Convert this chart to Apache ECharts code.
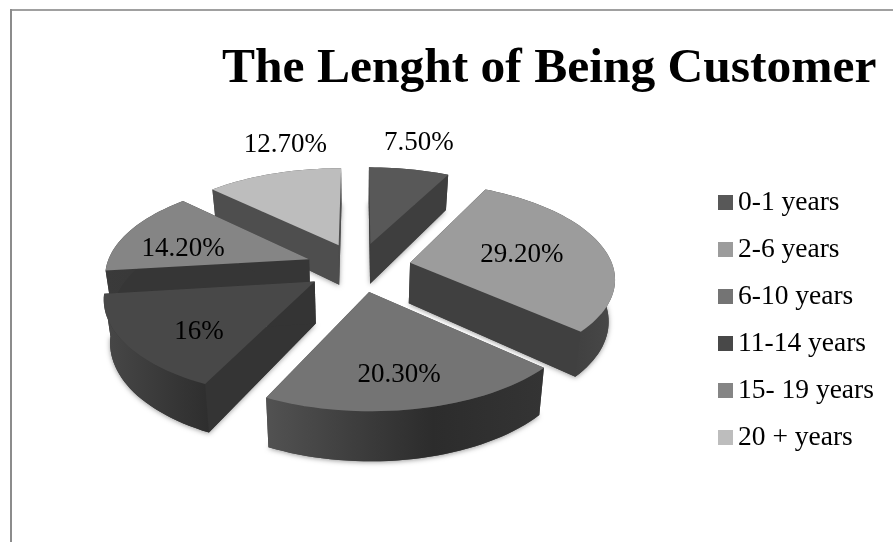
<!DOCTYPE html>
<html>
<head>
<meta charset="utf-8">
<style>html,body{margin:0;padding:0;background:#fff}#chart{width:893px;height:542px}</style>
<script src="https://cdn.jsdelivr.net/npm/echarts@6/dist/echarts.min.js"></script>
</head>
<body>
<div id="chart"></div>
<script>
// Share of customers by length of relationship
const categories = ['0-1 years', '2-6 years', '6-10 years', '11-14 years', '15- 19 years', '20 + years'];
const shares = [7.5, 29.2, 20.3, 16, 14.2, 12.7];
const valueLabels = ['7.50%', '29.20%', '20.30%', '16%', '14.20%', '12.70%'];

// Surface shades for each slice
const faceColors = ['#585858', '#9c9c9c', '#747474', '#484848', '#858585', '#bdbdbd'];
const cutColors = ['#3e3e3e', '#404040', '#4a4a4a', '#343434', '#363636', '#4e4e4e'];
const rimLeft = ['#3e3e3e', '#3c3c3c', '#525252', '#484848', '#3a3a3a', '#4e4e4e'];
const rimMiddle = ['#3e3e3e', '#3e3e3e', '#2c2c2c', '#383838', '#383838', '#4e4e4e'];
const rimRight = ['#3e3e3e', '#484848', '#343434', '#2e2e2e', '#363636', '#4e4e4e'];

// Where each value label sits, in pie radii from the hub and degrees off the slice's middle
const labelReach = [1.67, 0.83, 1.0, 0.95, 0.91, 1.66];
const labelTurn = [-0.8, 1.5, 1.3, -5.5, -6.3, 7.4];

// Tilted, perspective view of the pie
const view = { cx: 358.5, cy: 267, sx: 203, sy: 94, persp: 0.145, depth: 41, shrink: 0.975, explode: 0.26 };

function project(u, v) {
  const s = 1 / (1 + view.persp * v);
  return { x: view.cx + view.sx * u * s, y: view.cy - view.sy * v * s, s };
}
function topPoint(u, v) {
  const p = project(u, v);
  return [p.x, p.y];
}
function basePoint(u, v) {
  const p = project(u, v);
  return [view.cx + (p.x - view.cx) * view.shrink, p.y + view.depth * p.s];
}

// Angular span of every slice, clockwise from twelve o'clock
const total = shares.reduce((a, b) => a + b, 0);
let running = 0;
const spans = shares.map(v => {
  const from = running / total * 2 * Math.PI;
  running += v;
  return { from, to: running / total * 2 * Math.PI };
});

// Paint order: slices further back go first
const paintRank = spans
  .map((sp, i) => ({ i, v: Math.cos((sp.from + sp.to) / 2) }))
  .sort((a, b) => b.v - a.v)
  .reduce((rank, item, pos) => { rank[item.i] = pos; return rank; }, {});

function renderSlice(params, api) {
  const i = api.value(0);
  const sp = spans[i];
  const mid = (sp.from + sp.to) / 2;
  const hubU = view.explode * Math.sin(mid);
  const hubV = view.explode * Math.cos(mid);
  const edge = [];
  const steps = Math.max(2, Math.ceil((sp.to - sp.from) / (Math.PI / 90)));
  for (let k = 0; k <= steps; k++) {
    const a = sp.from + (sp.to - sp.from) * k / steps;
    edge.push([hubU + Math.sin(a), hubV + Math.cos(a)]);
  }
  const topEdge = edge.map(e => topPoint(e[0], e[1]));
  const baseEdge = edge.map(e => basePoint(e[0], e[1]));
  const hubTop = topPoint(hubU, hubV);
  const hubBase = basePoint(hubU, hubV);
  const rank = paintRank[i] * 10 + 1;
  const last = edge.length - 1;
  const base = {
    type: 'polygon', z2: rank,
    shape: { points: [hubBase].concat(baseEdge) },
    style: { fill: cutColors[i], shadowBlur: 5, shadowColor: 'rgba(0,0,0,0.4)', shadowOffsetY: 1 }
  };
  const cutA = {
    type: 'polygon', z2: rank + 1,
    shape: { points: [hubTop, topEdge[0], baseEdge[0], hubBase] },
    style: { fill: cutColors[i] }
  };
  const cutB = {
    type: 'polygon', z2: rank + 1,
    shape: { points: [hubTop, topEdge[last], baseEdge[last], hubBase] },
    style: { fill: cutColors[i] }
  };
  const rim = {
    type: 'polygon', z2: rank + 2,
    shape: { points: topEdge.concat(baseEdge.slice().reverse()) },
    style: {
      fill: new echarts.graphic.LinearGradient(0, 0, 1, 0, [
        { offset: 0, color: rimLeft[i] },
        { offset: 0.6, color: rimMiddle[i] },
        { offset: 1, color: rimRight[i] }
      ])
    }
  };
  const face = {
    type: 'polygon', z2: rank + 3,
    shape: { points: [hubTop].concat(topEdge) },
    style: { fill: faceColors[i] }
  };
  const a = mid + labelTurn[i] * Math.PI / 180;
  const at = topPoint(labelReach[i] * Math.sin(a), labelReach[i] * Math.cos(a));
  const label = {
    type: 'text', z2: 100,
    style: {
      text: valueLabels[i], x: at[0], y: at[1],
      align: 'center', verticalAlign: 'middle',
      font: '27px "Liberation Serif"', fill: '#000'
    }
  };
  return { type: 'group', children: [base, cutA, cutB, rim, face, label] };
}

const chart = echarts.init(document.getElementById('chart'), null, { renderer: 'canvas' });
chart.setOption({
  animation: false,
  backgroundColor: '#fff',
  title: {
    text: 'The Lenght of Being Customer',
    left: 217, top: 39,
    textStyle: { fontFamily: 'Liberation Serif', fontWeight: 'bold', fontSize: 49.5, color: '#000' }
  },
  legend: {
    data: categories,
    orient: 'vertical',
    left: 713, top: 183.5,
    icon: 'rect',
    itemWidth: 15, itemHeight: 15, itemGap: 19,
    selectedMode: false,
    textStyle: { fontFamily: 'Liberation Serif', fontSize: 27.5, color: '#000', lineHeight: 28 }
  },
  graphic: [
    { type: 'line', shape: { x1: 10, y1: 10, x2: 893, y2: 10 }, style: { stroke: '#a0a0a0', lineWidth: 2 } },
    { type: 'line', shape: { x1: 11, y1: 9, x2: 11, y2: 542 }, style: { stroke: '#8c8c8c', lineWidth: 2 } }
  ],
  series: categories.map((name, i) => ({
    type: 'custom',
    name,
    coordinateSystem: 'none',
    renderItem: renderSlice,
    itemStyle: { color: faceColors[i] },
    encode: { value: 1 },
    data: [[i, shares[i]]]
  }))
});
</script>
</body>
</html>
